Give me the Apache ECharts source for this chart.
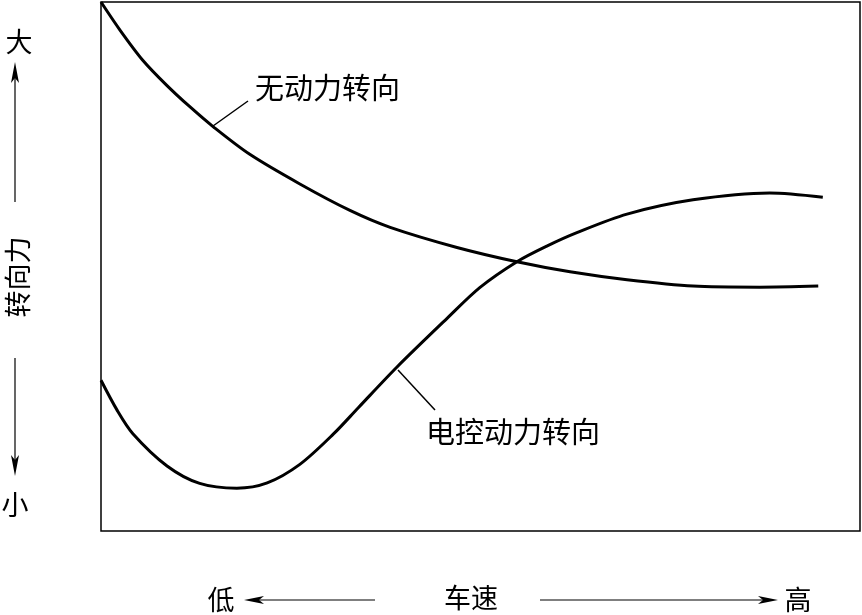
<!DOCTYPE html>
<html>
<head>
<meta charset="utf-8">
<style>html,body{margin:0;padding:0;background:#fff;}#c{width:862px;height:615px;}</style>
<script src="https://cdn.jsdelivr.net/npm/echarts@6/dist/echarts.min.js"></script>
</head>
<body>
<div id="c"></div>
<script>
// Vehicle speed (0 = low, 100 = high)
var speedNoAssist = [0, 2.5, 5.5, 8.7, 11.7, 14.8, 19.6, 26.2, 32.8, 38.1, 46.9, 54.8, 61.8, 69.3, 78.0, 86.8, 94.5];
// Steering force (0 = small, 100 = large), unassisted steering
var forceNoAssist = [100, 94.7, 89.0, 84.2, 80.2, 76.4, 71.2, 65.6, 60.6, 57.4, 53.6, 50.9, 49.0, 47.5, 46.3, 46.1, 46.3];
// Electronically controlled power steering
var speedEps = [0, 2.1, 4.2, 8.7, 13.0, 17.9, 21.9, 26.2, 30.6, 33.9, 39.0, 45.6, 49.9, 54.8, 58.8, 62.7, 69.3, 78.0, 88.1, 95.1];
var forceEps = [28.5, 22.9, 18.4, 12.3, 9.0, 8.1, 9.1, 12.6, 18.3, 23.3, 31.0, 40.2, 46.0, 50.9, 53.9, 56.4, 59.9, 62.6, 63.9, 63.1];
var seriesNames = ['无动力转向', '电控动力转向'];
var yAxisLabels = ['大', '转向力', '小'];
var xAxisLabels = ['低', '车速', '高'];

function zip(a, b) { return a.map(function (v, i) { return [v, b[i]]; }); }

var chart = echarts.init(document.getElementById('c'));
var FONT = '"Noto Sans CJK SC", sans-serif';
var txt = function (t, x, y, size, rot) {
  return { type: 'text', x: x, y: y, rotation: rot || 0,
    style: { text: t, fill: '#000', font: size + 'px ' + FONT, textAlign: 'center', textVerticalAlign: 'middle' } };
};
var ln = function (x1, y1, x2, y2, w) {
  return { type: 'line', shape: { x1: x1, y1: y1, x2: x2, y2: y2 }, style: { stroke: '#000', lineWidth: w || 1.5 } };
};
var head = function (pts) {
  return { type: 'polygon', shape: { points: pts }, style: { fill: '#000' } };
};

chart.setOption({
  animation: false,
  backgroundColor: '#fff',
  grid: { left: 101, right: 2, top: 2, bottom: 84, show: true, borderColor: '#000', borderWidth: 1.5, backgroundColor: 'transparent' },
  xAxis: { type: 'value', min: 0, max: 100, show: false },
  yAxis: { type: 'value', min: 0, max: 100, show: false },
  series: [
    { name: seriesNames[0], type: 'line', data: zip(speedNoAssist, forceNoAssist), smooth: 0.3, showSymbol: false,
      lineStyle: { color: '#000', width: 3 } },
    { name: seriesNames[1], type: 'line', data: zip(speedEps, forceEps), smooth: 0.3, showSymbol: false,
      lineStyle: { color: '#000', width: 3 } }
  ],
  graphic: [
    // curve labels with leader lines
    ln(213, 126, 248, 101, 1.5),
    { type: 'text', x: 255, y: 88, style: { text: seriesNames[0], fill: '#000', font: '29px ' + FONT, textAlign: 'left', textVerticalAlign: 'middle' } },
    ln(398, 370, 435, 410, 1.5),
    { type: 'text', x: 426, y: 432, style: { text: seriesNames[1], fill: '#000', font: '29px ' + FONT, textAlign: 'left', textVerticalAlign: 'middle' } },
    // y axis annotation
    txt(yAxisLabels[0], 19, 42, 27),
    ln(15, 76, 15, 202, 1.2),
    head([[15, 62], [11, 83], [15, 78], [19, 83]]),
    txt(yAxisLabels[1], 18, 277, 27, Math.PI / 2),
    ln(15, 358, 15, 462, 1.2),
    head([[15, 476], [11, 455], [15, 460], [19, 455]]),
    txt(yAxisLabels[2], 15, 505, 27),
    // x axis annotation
    txt(xAxisLabels[0], 221, 600, 27),
    ln(256, 600, 375, 600, 1.2),
    head([[244, 600], [264, 596], [259, 600], [264, 604]]),
    txt(xAxisLabels[1], 471, 598, 27),
    ln(540, 600, 766, 600, 1.2),
    head([[778, 600], [758, 596], [763, 600], [758, 604]]),
    txt(xAxisLabels[2], 798, 600, 27)
  ]
});
</script>
</body>
</html>
